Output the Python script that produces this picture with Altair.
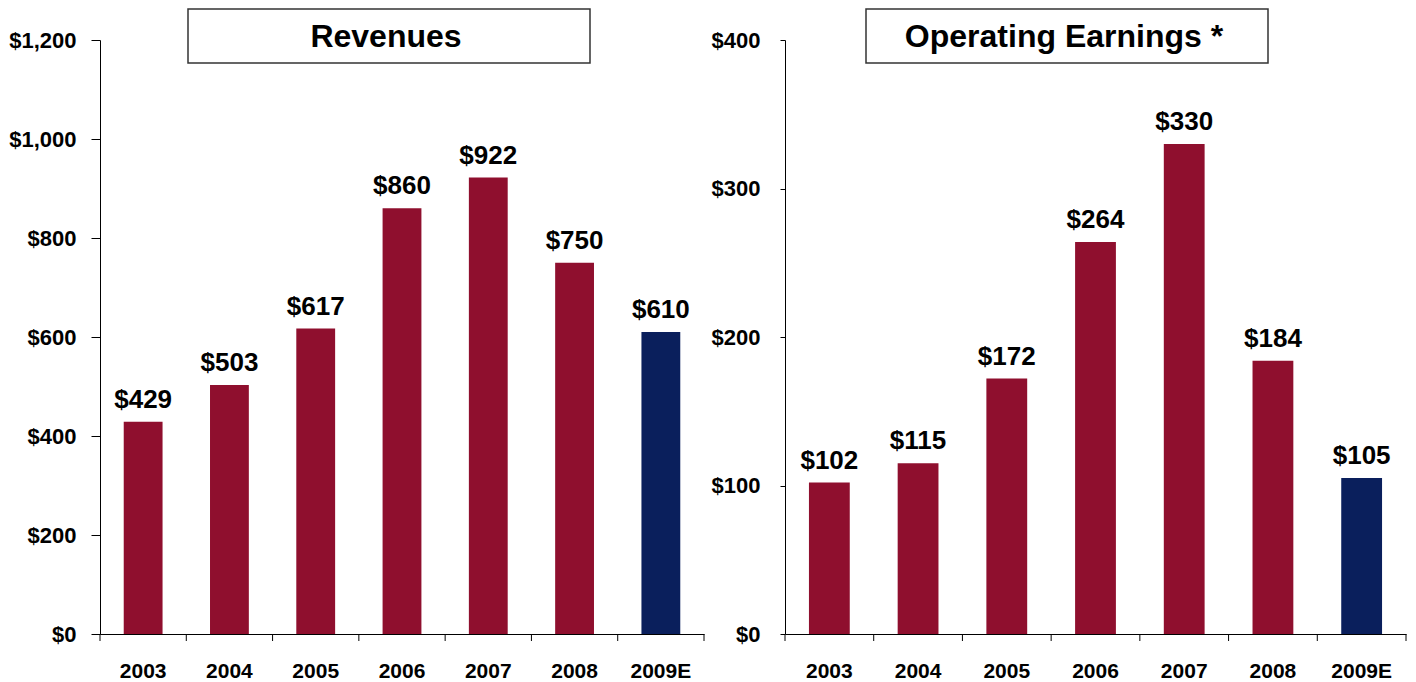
import altair as alt
import pandas as pd

years = ["2003", "2004", "2005", "2006", "2007", "2008", "2009E"]
kinds = ["Actual", "Actual", "Actual", "Actual", "Actual", "Actual", "Estimate"]
revenues = [429, 503, 617, 860, 922, 750, 610]
earnings = [102, 115, 172, 264, 330, 184, 105]
rev_ticks = [0, 200, 400, 600, 800, 1000, 1200]
earn_ticks = [0, 100, 200, 300, 400]
titles = ["Revenues", "Operating Earnings *"]

FONT = "Liberation Sans"
MAROON = "#8F0F2E"
NAVY = "#0A1F5C"
H = 594


def panel(values, ymax, yticks, title, width, band, ytick_size, ylabel_pad,
          box_x, box_x2, title_x):
    df = pd.DataFrame({"year": years, "value": values, "kind": kinds})
    tdf = pd.DataFrame({"title": [title]})
    xscale = alt.Scale(paddingInner=0, paddingOuter=0)
    x = alt.X("year:N", sort=years, scale=xscale,
              axis=alt.Axis(title=None, ticks=False, tickSize=0, domain=True,
                            labelPadding=26, labelFont=FONT, labelFontSize=21,
                            labelFontWeight="bold", labelColor="black",
                            labelAngle=0))
    y = alt.Y("value:Q", scale=alt.Scale(domain=[0, ymax], nice=False),
              axis=alt.Axis(title=None, values=yticks, format="$,.0f",
                            grid=False, tickSize=ytick_size,
                            labelPadding=ylabel_pad, labelFont=FONT,
                            labelFontSize=22, labelFontWeight="bold",
                            labelColor="black"))
    base = alt.Chart(df)
    bars = base.mark_bar(width=alt.RelativeBandSize(band)).encode(
        x=x, y=y,
        color=alt.Color("kind:N",
                        scale=alt.Scale(domain=["Actual", "Estimate"],
                                        range=[MAROON, NAVY]),
                        legend=None))
    labels = base.mark_text(font=FONT, fontSize=26, fontWeight="bold",
                            baseline="alphabetic", dy=-14, color="black").encode(
        x=alt.X("year:N", sort=years),
        y=alt.Y("value:Q"),
        text=alt.Text("value:Q", format="$,.0f"))
    xticks = base.mark_rule(color="black").encode(
        x=alt.X("year:N", sort=years, bandPosition=0),
        y=alt.value(H), y2=alt.value(H + 7))
    endtick = alt.Chart(tdf).mark_rule(color="black").encode(
        x=alt.value(width), y=alt.value(H), y2=alt.value(H + 7))
    box = alt.Chart(tdf).mark_rect(fill="white", stroke="#333333",
                                   strokeWidth=1.5).encode(
        x=alt.value(box_x), x2=alt.value(box_x2),
        y=alt.value(-31), y2=alt.value(23))
    ttext = alt.Chart(tdf).mark_text(font=FONT, fontSize=32, fontWeight="bold",
                                     baseline="alphabetic", align="center",
                                     color="black").encode(
        x=alt.value(title_x), y=alt.value(7), text="title:N")
    return alt.layer(bars, labels, xticks, endtick, box, ttext).properties(
        width=width, height=H)


left = panel(revenues, 1200, rev_ticks, titles[0], 604, 0.45, 9, 15,
             88, 490, 286)
right = panel(earnings, 400, earn_ticks, titles[1], 621, 0.46, 5, 20,
              81, 483, 279)

chart = alt.hconcat(left, right, spacing=6).properties(
    padding={"left": 0, "top": 0, "right": 0, "bottom": 0}
).configure_view(stroke=None).configure_axis(
    domainColor="black", tickColor="black", domainWidth=1
)

chart.save("out.html", embed_options={"renderer": "svg", "actions": False})
